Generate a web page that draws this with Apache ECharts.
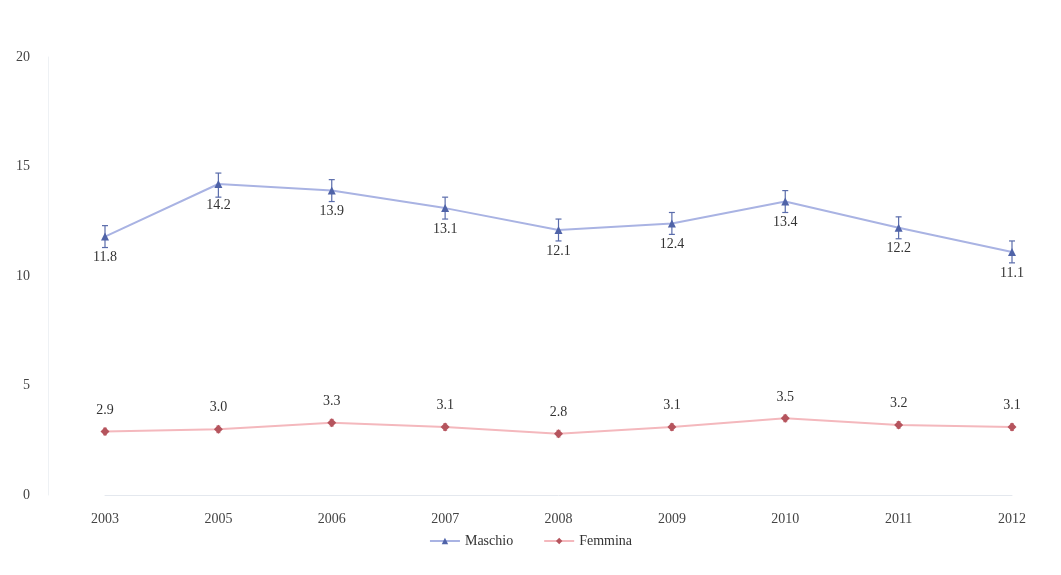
<!DOCTYPE html>
<html><head><meta charset="utf-8">
<script src="https://cdn.jsdelivr.net/npm/echarts@6/dist/echarts.min.js"></script>
<style>html,body{margin:0;padding:0;background:#fff}#c{width:1061px;height:575px}</style>
</head><body><div id="c"></div>
<script>
const years = ['2003','2005','2006','2007','2008','2009','2010','2011','2012'];
const maschio = [11.8, 14.2, 13.9, 13.1, 12.1, 12.4, 13.4, 12.2, 11.1];
const maschioLow = [11.3, 13.6, 13.4, 12.6, 11.6, 11.9, 12.9, 11.7, 10.6];
const maschioHigh = [12.3, 14.7, 14.4, 13.6, 12.6, 12.9, 13.9, 12.7, 11.6];
const femmina = [2.9, 3.0, 3.3, 3.1, 2.8, 3.1, 3.5, 3.2, 3.1];
const femminaLow = [2.75, 2.85, 3.15, 2.95, 2.65, 2.95, 3.35, 3.05, 2.95];
const femminaHigh = [3.05, 3.15, 3.45, 3.25, 2.95, 3.25, 3.65, 3.35, 3.25];
const yTicks = [0, 5, 10, 15, 20];

const font = 'Liberation Serif';
function errSeries(low, high, color, cap) {
  return {
    type: 'custom', silent: true, z: 3,
    data: years.map((y, i) => [i, low[i], high[i]]),
    renderItem: function (params, api) {
      const lo = api.coord([api.value(0), api.value(1)]);
      const hi = api.coord([api.value(0), api.value(2)]);
      const st = { stroke: color, lineWidth: 1.2 };
      return { type: 'group', children: [
        { type: 'line', shape: { x1: lo[0], y1: lo[1], x2: hi[0], y2: hi[1] }, style: st },
        { type: 'line', shape: { x1: lo[0]-cap, y1: lo[1], x2: lo[0]+cap, y2: lo[1] }, style: st },
        { type: 'line', shape: { x1: hi[0]-cap, y1: hi[1], x2: hi[0]+cap, y2: hi[1] }, style: st }
      ]};
    }
  };
}
const chart = echarts.init(document.getElementById('c'));
chart.setOption({
  animation: false,
  backgroundColor: '#fff',
  textStyle: { fontFamily: font },
  grid: { left: 105, right: 49, top: 57, bottom: 80 },
  xAxis: {
    type: 'category', data: years, boundaryGap: false,
    axisLine: { lineStyle: { color: '#e4e8ee' } },
    axisTick: { show: false },
    axisLabel: { color: '#444', fontFamily: font, fontSize: 14, margin: 17 }
  },
  yAxis: {
    type: 'value', min: yTicks[0], max: yTicks[yTicks.length-1], interval: 5,
    offset: 57,
    axisLine: { show: true, lineStyle: { color: '#eef1f4' } },
    axisTick: { show: false },
    splitLine: { show: false },
    axisLabel: { color: '#444', fontFamily: font, fontSize: 14, margin: 18 }
  },
  legend: {
    bottom: 22, left: 'center', itemGap: 30, itemWidth: 30, itemHeight: 8,
    textStyle: { color: '#333', fontFamily: font, fontSize: 14 },
    data: ['Maschio', 'Femmina']
  },
  series: [
    {
      name: 'Maschio', type: 'line', data: maschio, z: 4,
      symbol: 'triangle', symbolSize: 8,
      itemStyle: { color: '#4f63a8' },
      lineStyle: { color: '#a9b3e3', width: 2 },
      label: { show: true, position: 'bottom', distance: 10, color: '#333', fontFamily: font, fontSize: 14,
        formatter: p => p.value.toFixed(1) }
    },
    {
      name: 'Femmina', type: 'line', data: femmina, z: 4,
      symbol: 'diamond', symbolSize: 9,
      itemStyle: { color: '#b5545d' },
      lineStyle: { color: '#f4b8bd', width: 2 },
      label: { show: true, position: 'top', distance: 10, color: '#333', fontFamily: font, fontSize: 14,
        formatter: p => p.value.toFixed(1) }
    },
    errSeries(maschioLow, maschioHigh, '#5a6cab', 3),
    errSeries(femminaLow, femminaHigh, '#d08890', 2)
  ]
});
</script></body></html>
